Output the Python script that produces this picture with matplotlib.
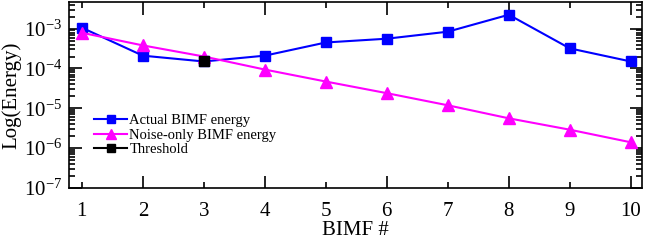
import numpy as np
import matplotlib
matplotlib.use("Agg")
import matplotlib.pyplot as plt
from matplotlib.ticker import LogLocator, NullFormatter, FixedLocator, FormatStrFormatter

plt.rcParams['font.family'] = ['Liberation Serif', 'DejaVu Serif']
plt.rcParams['mathtext.fontset'] = 'stix'

bimf = [1, 2, 3, 4, 5, 6, 7, 8, 9, 10]
actual = [1.06e-3, 2.1e-4, 1.5e-4, 2.1e-4, 4.5e-4, 5.6e-4, 8.4e-4, 2.24e-3, 3.2e-4, 1.5e-4]
noise = [7.9e-4, 3.8e-4, 2.0e-4, 9.4e-5, 4.7e-5, 2.4e-5, 1.19e-5, 5.6e-6, 2.9e-6, 1.4e-6]
thr_x = [3]
thr_y = [1.5e-4]

fig = plt.figure(figsize=(6.45, 2.4), dpi=100)
ax = fig.add_axes([0.107, 0.217, 0.888, 0.775])

ax.plot(bimf, actual, color='#0000ff', marker='s', markersize=7.5, lw=1.5,
        label='Actual BIMF energy')
ax.plot(bimf, noise, color='#ff00ff', marker='^', markersize=8.5, lw=1.5,
        label='Noise-only BIMF energy')
ax.plot(thr_x, thr_y, color='black', marker='s', markersize=7.5, lw=1.5,
        label='Threshold')

ax.set_yscale('log')
ax.set_xlim(0.79, 10.18)
ax.set_ylim(1e-7, 4.7e-3)
# even numbers get long ticks, odd ones short, all labelled
ax.xaxis.set_major_locator(FixedLocator(bimf[1::2]))
ax.xaxis.set_minor_locator(FixedLocator(bimf[0::2]))
ax.xaxis.set_major_formatter(FormatStrFormatter('%d'))
ax.xaxis.set_minor_formatter(FormatStrFormatter('%d'))
ax.yaxis.set_major_locator(LogLocator(base=10, numticks=20))
ax.yaxis.set_minor_locator(LogLocator(base=10, subs=np.arange(2, 10), numticks=20))
ax.yaxis.set_minor_formatter(NullFormatter())

ax.tick_params(axis='both', which='both', direction='in', top=True, right=True)
ax.tick_params(axis='both', which='major', length=9, width=1.2, labelsize=15)
ax.tick_params(axis='both', which='minor', length=4.5, width=1.2, labelsize=15)
ax.tick_params(axis='x', which='both', pad=10)
ax.tick_params(axis='y', which='major', pad=5)
for s in ax.spines.values():
    s.set_linewidth(1.2)

ax.set_xlabel('BIMF #', fontsize=15, labelpad=0)
ax.set_ylabel('Log(Energy)', fontsize=15, labelpad=2)

ax.legend(loc='upper left', bbox_to_anchor=(0.033, 0.43), frameon=False, fontsize=10.5,
          handlelength=2.3, handletextpad=0.15, borderaxespad=0, labelspacing=0.1,
          markerscale=0.8)

fig.savefig('out.png', dpi=100)
